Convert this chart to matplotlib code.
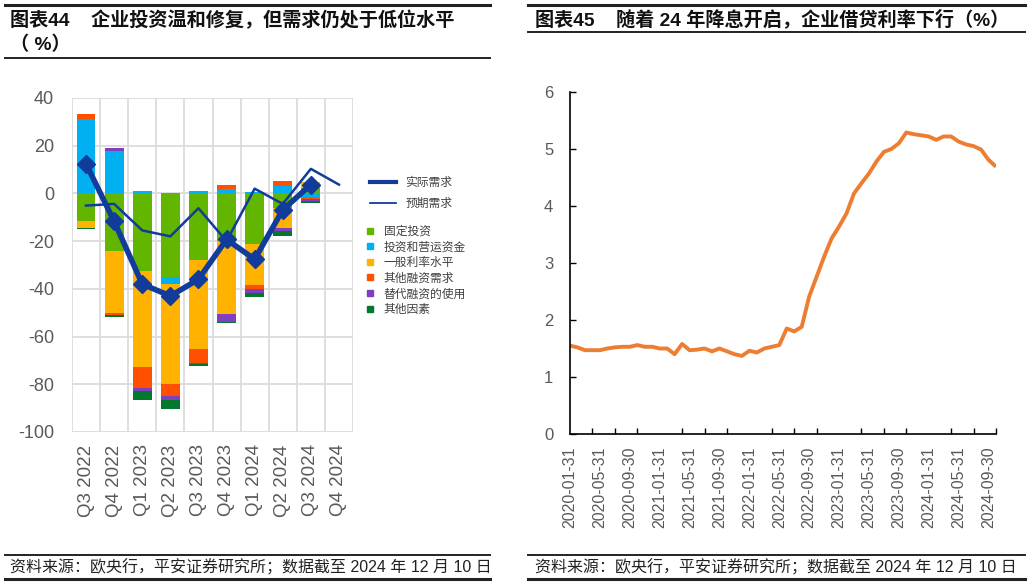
import matplotlib
matplotlib.use("Agg")
import matplotlib.pyplot as plt
from matplotlib.lines import Line2D
import numpy as np
import pandas as pd

plt.rcParams["font.family"] = ["Liberation Sans", "Noto Sans CJK SC", "DejaVu Sans"]
plt.rcParams["axes.unicode_minus"] = False

# ---- left panel data (ECB bank lending survey, loan demand contributions) ----
QUARTERS = ["Q3 2022", "Q4 2022", "Q1 2023", "Q2 2023", "Q3 2023",
            "Q4 2023", "Q1 2024", "Q2 2024", "Q3 2024", "Q4 2024"]
FIXED_INV = [-11.5, -24.2, -32.6, -35.0, -28.0, -20.0, -21.0, -6.0, 2.1, np.nan]
WORKING_CAP = [31.0, 17.6, 1.0, -2.8, 1.0, 1.8, 0.8, 3.2, -1.7, np.nan]
RATE_LEVEL = [-3.0, -25.8, -40.1, -42.0, -37.3, -30.7, -17.5, -8.5, 2.7, np.nan]
OTHER_FIN = [2.5, -1.0, -9.0, -5.2, -5.6, 1.9, -1.4, 1.8, -0.8, np.nan]
ALT_FIN = [0.0, 1.4, -1.1, -1.5, -0.4, -3.1, -1.8, -1.4, -0.7, np.nan]
OTHER = [-0.5, -0.9, -3.7, -3.9, -1.0, -0.7, -1.7, -1.8, -0.9, np.nan]
ACTUAL = [12.4, -11.7, -38.0, -43.0, -36.0, -19.3, -27.6, -6.9, 3.7, np.nan]
EXPECTED = [-5.1, -4.4, -15.5, -18.0, -6.2, -20.0, 2.0, -4.4, 10.3, 3.7]

COMP_LABELS = ["固定投资", "投资和营运资金", "一般利率水平", "其他融资需求", "替代融资的使用", "其他因素"]
COMP_COLORS = ["#62B600", "#00B0F0", "#FFB300", "#FF5000", "#7F3FC0", "#00782D"]

# ---- right panel data (corporate lending rate, %) ----
MONTHS = pd.date_range("2020-01-31", periods=58, freq=pd.offsets.MonthEnd()).strftime("%Y-%m-%d")
LEND_RATE = [1.55, 1.52, 1.47, 1.47, 1.47, 1.50, 1.52, 1.53, 1.53, 1.56,
             1.53, 1.53, 1.50, 1.50, 1.40, 1.58, 1.47, 1.48, 1.50, 1.45,
             1.50, 1.45, 1.40, 1.37, 1.46, 1.43, 1.50, 1.53, 1.56, 1.85,
             1.80, 1.88, 2.41, 2.76, 3.11, 3.43, 3.64, 3.87, 4.22, 4.40,
             4.57, 4.78, 4.95, 5.00, 5.10, 5.29, 5.26, 5.24, 5.22, 5.16,
             5.22, 5.22, 5.13, 5.08, 5.05, 4.99, 4.81, 4.69]

NAVY = "#113C9C"
ORANGE = "#ED7D31"
GRAY = "#595959"
W, H = 1032, 584


def fx(px):
    return px / W


def fy(py):
    return 1 - py / H


fig = plt.figure(figsize=(W / 100, H / 100), dpi=100)
fig.patch.set_facecolor("white")

# ---- Panel A: stacked contributions ----
ax = fig.add_axes([fx(72), fy(432), fx(353) - fx(72), fy(98) - fy(432)])
x = np.arange(len(QUARTERS))
pos = np.zeros(len(x))
neg = np.zeros(len(x))
for vals, color in zip([FIXED_INV, WORKING_CAP, RATE_LEVEL, OTHER_FIN, ALT_FIN, OTHER], COMP_COLORS):
    v = np.nan_to_num(np.array(vals, dtype=float))
    ax.bar(x, v, 0.67, bottom=np.where(v >= 0, pos, neg), color=color, zorder=2)
    pos += np.clip(v, 0, None)
    neg += np.clip(v, None, 0)

ax.plot(x, EXPECTED, color=NAVY, lw=1.8, zorder=3)
ax.plot(x, ACTUAL, color=NAVY, lw=4.0, marker="D", markersize=9, zorder=4)

ax.set_xlim(-0.5, len(x) - 0.5)
ax.set_ylim(-100, 40)
ax.set_yticks(np.arange(-100, 41, 20))
ax.set_xticks(x)
ax.set_xticklabels(QUARTERS, rotation=90)
ax.set_xticks(np.arange(-0.5, len(x), 1), minor=True)
ax.grid(True, which="minor", axis="x", color="#D9D9D9", lw=1.2, zorder=0)
ax.grid(True, which="major", axis="y", color="#D9D9D9", lw=1.2, zorder=0)
ax.tick_params(axis="both", which="both", length=0, colors=GRAY)
ax.tick_params(axis="y", labelsize=13, pad=13)
ax.tick_params(axis="x", labelsize=13.5, pad=9)
for s in ax.spines.values():
    s.set_visible(False)

line_handles = [Line2D([], [], color=NAVY, lw=3.0), Line2D([], [], color=NAVY, lw=1.3)]
fig.legend(line_handles, ["实际需求", "预期需求"], loc="upper left",
           bbox_to_anchor=(fx(370), fy(177)), frameon=False, fontsize=8.5,
           handlelength=2.2, handletextpad=0.8, labelspacing=0.75, labelcolor="#404040",
           borderaxespad=0, borderpad=0)
sq_handles = [Line2D([], [], marker="s", ls="none", color=c, markersize=4.5) for c in COMP_COLORS]
fig.legend(sq_handles, COMP_LABELS, loc="upper left",
           bbox_to_anchor=(fx(365), fy(226)), frameon=False, fontsize=8.5,
           handlelength=0.8, handletextpad=0.8, labelspacing=0.3, labelcolor="#404040",
           borderaxespad=0, borderpad=0)

# ---- Panel B: corporate lending rate ----
ax2 = fig.add_axes([fx(570), fy(434), fx(996) - fx(570), fy(92) - fy(434)])
m = np.arange(len(LEND_RATE))
ax2.plot(m, LEND_RATE, color=ORANGE, lw=2.8, solid_capstyle="butt")
ax2.set_xlim(0, len(LEND_RATE) - 1)
ax2.set_ylim(0, 6)
ax2.set_yticks(np.arange(0, 7, 1))
ax2.set_xticks(m[::4])
ax2.set_xticklabels(MONTHS[::4], rotation=90)
ax2.set_xticks(m[::3], minor=True)
ax2.tick_params(axis="x", which="major", length=0, labelsize=11.5, colors=GRAY, pad=9)
ax2.tick_params(axis="x", which="minor", length=4.5, width=1, direction="in", color="black")
ax2.tick_params(axis="y", length=4.5, width=1, direction="in", labelsize=12,
                color="black", labelcolor=GRAY, pad=12)
for side in ["top", "right"]:
    ax2.spines[side].set_visible(False)
for side in ["left", "bottom"]:
    ax2.spines[side].set_color("black")
    ax2.spines[side].set_linewidth(1.2)

# ---- titles, rules and sources ----
def rule(x0, x1, y, lw):
    fig.add_artist(Line2D([fx(x0), fx(x1)], [fy(y), fy(y)], color="#222222", lw=lw))


rule(5, 490, 5, 2.2)
rule(5, 490, 58, 1.4)
rule(528, 1025, 5, 2.2)
rule(528, 1025, 32, 1.4)
rule(5, 490, 555, 1.4)
rule(5, 490, 579, 2.2)
rule(528, 1025, 555, 1.4)
rule(528, 1025, 579, 2.2)

fig.text(fx(10), fy(20), "图表44    企业投资温和修复，但需求仍处于低位水平",
         fontsize=13.8, fontweight="bold", va="center", color="#111111")
fig.text(fx(10), fy(45), "（ %）", fontsize=13.8, fontweight="bold", va="center", color="#111111")
fig.text(fx(535), fy(19), "图表45    随着 24 年降息开启，企业借贷利率下行（%）",
         fontsize=13.8, fontweight="bold", va="center", color="#111111")

SOURCE = "资料来源：欧央行，平安证券研究所；数据截至 2024 年 12 月 10 日"
fig.text(fx(10), fy(567), SOURCE, fontsize=11.5, va="center", color="#222222")
fig.text(fx(535), fy(567), SOURCE, fontsize=11.5, va="center", color="#222222")

fig.savefig("out.png", dpi=100, facecolor="white")
